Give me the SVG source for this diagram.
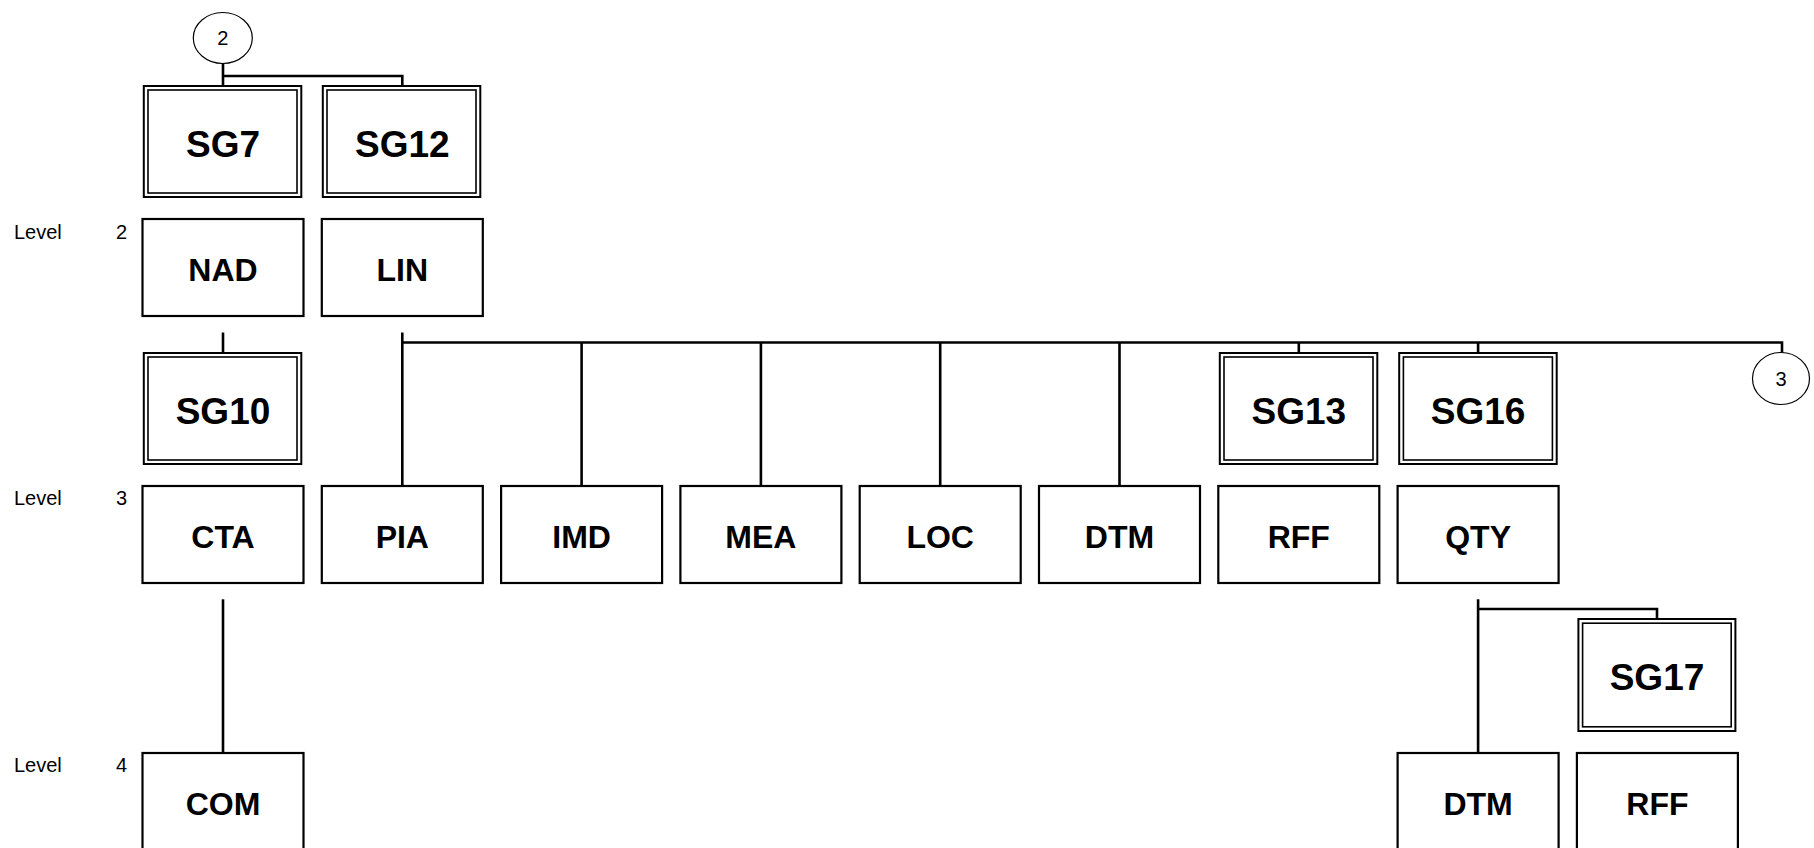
<svg xmlns="http://www.w3.org/2000/svg" width="1814" height="848" viewBox="0 0 1814 848">
<style>
.bg{fill:#fff}
.box{fill:#fff;stroke:#000;stroke-width:2.2}
.sgo{fill:#fff;stroke:#000;stroke-width:2}
.sgi{fill:none;stroke:#000;stroke-width:1.6}
.lbl{font-family:"Liberation Sans",Arial,sans-serif;font-weight:bold;font-size:32px;text-anchor:middle;fill:#000}
.sgl{font-family:"Liberation Sans",Arial,sans-serif;font-weight:bold;font-size:37px;text-anchor:middle;fill:#000}
.lvl{font-family:"Liberation Sans",Arial,sans-serif;font-size:20px;fill:#000}
.cir{fill:#fff;stroke:#000;stroke-width:1.2}
.ctxt{font-family:"Liberation Sans",Arial,sans-serif;font-size:20px;text-anchor:middle;fill:#000}
.con{fill:none;stroke:#000;stroke-width:2.6}
</style>
<rect class="bg" x="0" y="0" width="1814" height="848"/>

<g id="levels">
<text class="lvl" x="14" y="238.5">Level</text><text class="lvl" x="116" y="238.5">2</text>
<text class="lvl" x="14" y="505">Level</text><text class="lvl" x="116" y="505">3</text>
<text class="lvl" x="14" y="771.5">Level</text><text class="lvl" x="116" y="771.5">4</text>
</g>

<g id="connectors">
<path class="con" d="M223 63.5V86 M223 76H402.3V86"/>
<path class="con" d="M223 332.5V353"/>
<path class="con" d="M402.3 332.5V486 M402.3 342.5H1782V352.7"/>
<path class="con" d="M581.6 342.5V486 M760.9 342.5V486 M940.2 342.5V486 M1119.5 342.5V486"/>
<path class="con" d="M1298.8 342.5V353 M1478.1 342.5V353"/>
<path class="con" d="M223 599.3V753"/>
<path class="con" d="M1478.1 599.3V753 M1478.1 609H1657V619"/>
</g>

<g id="conn2">
<ellipse class="cir" cx="222.8" cy="38" rx="29.5" ry="25.5"/>
<text class="ctxt" x="222.8" y="45">2</text>
</g>
<g id="conn3">
<ellipse class="cir" cx="1781" cy="378.5" rx="28.5" ry="26"/>
<text class="ctxt" x="1781" y="386">3</text>
</g>

<g id="SG7">
<rect class="sgo" x="143.8" y="86" width="157.5" height="111"/>
<rect class="sgi" x="148" y="90" width="149" height="103"/>
<text class="sgl" x="223" y="157">SG7</text>
</g>
<g id="SG12">
<rect class="sgo" x="322.8" y="86" width="157.5" height="111"/>
<rect class="sgi" x="327" y="90" width="149" height="103"/>
<text class="sgl" x="402.3" y="157">SG12</text>
</g>

<g id="NAD"><rect class="box" x="142.5" y="219" width="161" height="97"/><text class="lbl" x="223" y="281">NAD</text></g>
<g id="LIN"><rect class="box" x="321.8" y="219" width="161" height="97"/><text class="lbl" x="402.3" y="281">LIN</text></g>

<g id="SG10">
<rect class="sgo" x="143.8" y="353" width="157.5" height="111"/>
<rect class="sgi" x="148" y="357" width="149" height="103"/>
<text class="sgl" x="223" y="424">SG10</text>
</g>
<g id="SG13">
<rect class="sgo" x="1219.8" y="353" width="157.5" height="111"/>
<rect class="sgi" x="1224" y="357" width="149" height="103"/>
<text class="sgl" x="1298.8" y="424">SG13</text>
</g>
<g id="SG16">
<rect class="sgo" x="1399.2" y="353" width="157.5" height="111"/>
<rect class="sgi" x="1403.4" y="357" width="149" height="103"/>
<text class="sgl" x="1478.1" y="424">SG16</text>
</g>

<g id="CTA"><rect class="box" x="142.5" y="486" width="161" height="97"/><text class="lbl" x="223" y="548">CTA</text></g>
<g id="PIA"><rect class="box" x="321.8" y="486" width="161" height="97"/><text class="lbl" x="402.3" y="548">PIA</text></g>
<g id="IMD"><rect class="box" x="501.1" y="486" width="161" height="97"/><text class="lbl" x="581.6" y="548">IMD</text></g>
<g id="MEA"><rect class="box" x="680.4" y="486" width="161" height="97"/><text class="lbl" x="760.9" y="548">MEA</text></g>
<g id="LOC"><rect class="box" x="859.7" y="486" width="161" height="97"/><text class="lbl" x="940.2" y="548">LOC</text></g>
<g id="DTM3"><rect class="box" x="1039" y="486" width="161" height="97"/><text class="lbl" x="1119.5" y="548">DTM</text></g>
<g id="RFF3"><rect class="box" x="1218.3" y="486" width="161" height="97"/><text class="lbl" x="1298.8" y="548">RFF</text></g>
<g id="QTY"><rect class="box" x="1397.6" y="486" width="161" height="97"/><text class="lbl" x="1478.1" y="548">QTY</text></g>

<g id="SG17">
<rect class="sgo" x="1578.4" y="619" width="157" height="112"/>
<rect class="sgi" x="1582.6" y="623.2" width="148.6" height="103.6"/>
<text class="sgl" x="1657" y="690">SG17</text>
</g>

<g id="COM"><rect class="box" x="142.5" y="753" width="161" height="97"/><text class="lbl" x="223" y="815">COM</text></g>
<g id="DTM4"><rect class="box" x="1397.6" y="753" width="161" height="97"/><text class="lbl" x="1478.1" y="815">DTM</text></g>
<g id="RFF4"><rect class="box" x="1576.9" y="753" width="161" height="97"/><text class="lbl" x="1657.4" y="815">RFF</text></g>
</svg>
